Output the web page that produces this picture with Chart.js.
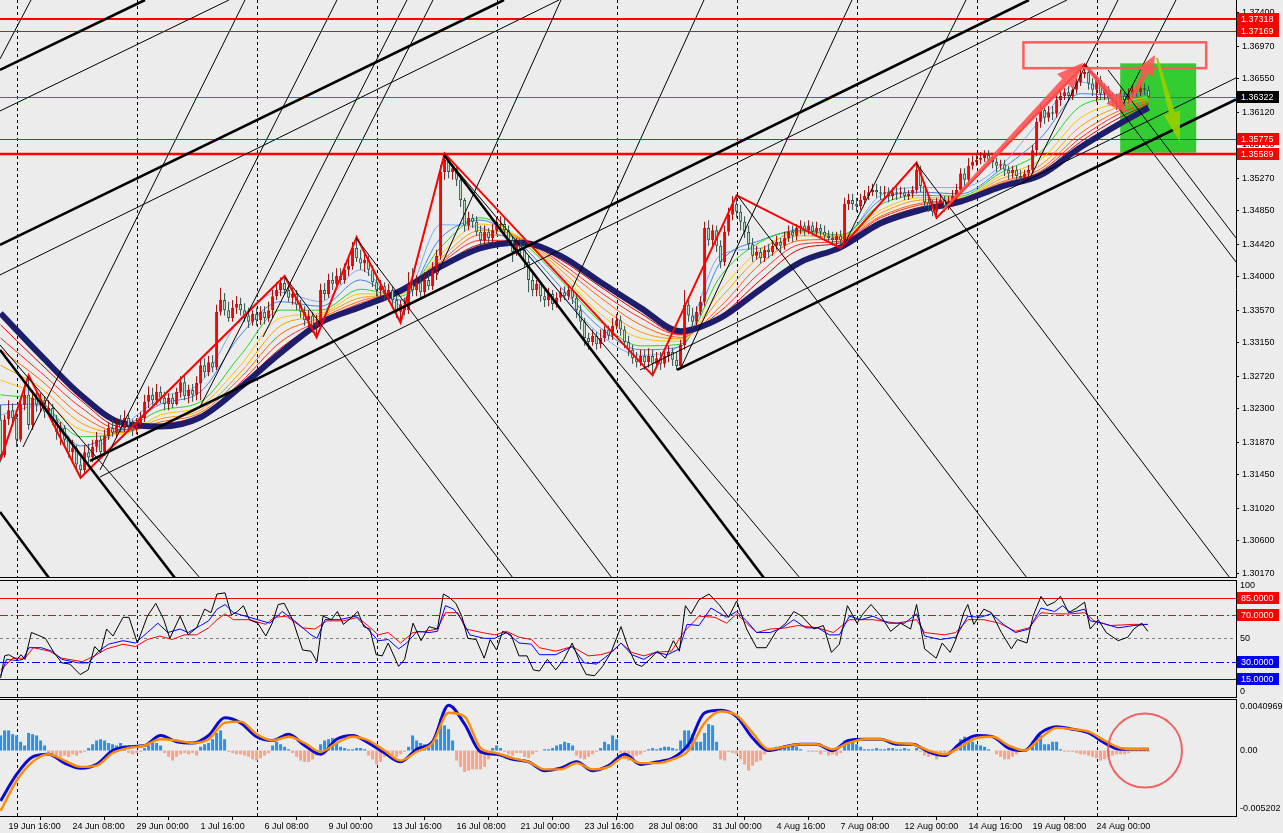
<!DOCTYPE html>
<html>
<head>
<meta charset="utf-8">
<title>H4 chart</title>
<script src="https://cdn.jsdelivr.net/npm/chart.js@4.4.1/dist/chart.umd.min.js"></script>
<style>
  html, body { margin:0; padding:0; background:#ececec; }
  body { width:1283px; height:833px; overflow:hidden; position:relative; }
  canvas { position:absolute; left:0; display:block; }
</style>
</head>
<body>
<canvas id="mainChart" width="1283" height="578" style="top:0px"></canvas>
<canvas id="oscChart" width="1283" height="118" style="top:580px"></canvas>
<canvas id="macdChart" width="1283" height="134" style="top:699px"></canvas>
<script>
// ---------------- DATA ----------------
const timeLabels = ["19 Jun 16:00","24 Jun 08:00","29 Jun 00:00","1 Jul 16:00","6 Jul 08:00","9 Jul 00:00","13 Jul 16:00","16 Jul 08:00","21 Jul 00:00","23 Jul 16:00","28 Jul 08:00","31 Jul 00:00","4 Aug 16:00","7 Aug 08:00","12 Aug 00:00","14 Aug 16:00","19 Aug 08:00","24 Aug 00:00"];
const tickBars = [2,18,34,50,66,82,98,114,130,146,162,178,194,210,226,242,258,274];
const weekStartBars = [4,34,64,94,124,154,184,214,244,274];
const priceTicks = [1.37400,1.36970,1.36550,1.36120,1.35700,1.35270,1.34850,1.34420,1.34000,1.33570,1.33150,1.32720,1.32300,1.31870,1.31450,1.31020,1.30600,1.30170];

const opens = [1.3216,1.3170,1.3216,1.3228,1.3218,1.3190,1.3235,1.3248,1.3209,1.3244,
1.3235,1.3241,1.3226,1.3231,1.3216,1.3200,1.3205,1.3190,1.3174,1.3179,
1.3158,1.3151,1.3174,1.3167,1.3181,1.3190,1.3174,1.3195,1.3205,1.3199,
1.3210,1.3205,1.3218,1.3208,1.3203,1.3210,1.3218,1.3239,1.3248,1.3241,
1.3252,1.3244,1.3236,1.3244,1.3236,1.3252,1.3264,1.3246,1.3254,1.3248,
1.3263,1.3286,1.3277,1.3290,1.3283,1.3355,1.3370,1.3357,1.3347,1.3360,
1.3365,1.3357,1.3350,1.3342,1.3352,1.3344,1.3355,1.3347,1.3357,1.3375,
1.3383,1.3392,1.3383,1.3373,1.3378,1.3364,1.3355,1.3344,1.3350,1.3337,
1.3342,1.3383,1.3378,1.3396,1.3391,1.3401,1.3396,1.3409,1.3414,1.3437,
1.3424,1.3417,1.3422,1.3409,1.3393,1.3383,1.3388,1.3378,1.3383,1.3370,
1.3355,1.3364,1.3357,1.3390,1.3383,1.3393,1.3380,1.3396,1.3388,1.3409,
1.3427,1.3535,1.3551,1.3535,1.3540,1.3525,1.3499,1.3466,1.3476,1.3471,
1.3458,1.3447,1.3458,1.3450,1.3460,1.3466,1.3468,1.3460,1.3447,1.3432,
1.3442,1.3435,1.3419,1.3396,1.3383,1.3391,1.3375,1.3370,1.3378,1.3365,
1.3373,1.3380,1.3375,1.3383,1.3373,1.3357,1.3342,1.3321,1.3316,1.3324,
1.3313,1.3321,1.3332,1.3324,1.3337,1.3344,1.3332,1.3316,1.3306,1.3295,
1.3290,1.3298,1.3290,1.3298,1.3288,1.3295,1.3288,1.3298,1.3303,1.3293,
1.3285,1.3312,1.3364,1.3350,1.3342,1.3355,1.3368,1.3463,1.3447,1.3460,
1.3440,1.3419,1.3458,1.3480,1.3494,1.3484,1.3471,1.3458,1.3442,1.3427,
1.3432,1.3424,1.3435,1.3432,1.3440,1.3445,1.3440,1.3450,1.3458,1.3453,
1.3463,1.3466,1.3460,1.3466,1.3458,1.3463,1.3458,1.3453,1.3450,1.3447,
1.3453,1.3447,1.3494,1.3499,1.3494,1.3491,1.3499,1.3504,1.3509,1.3512,
1.3509,1.3507,1.3509,1.3504,1.3509,1.3507,1.3509,1.3504,1.3507,1.3512,
1.3538,1.3517,1.3496,1.3491,1.3484,1.3494,1.3499,1.3491,1.3496,1.3504,
1.3512,1.3533,1.3525,1.3543,1.3548,1.3551,1.3553,1.3557,1.3551,1.3548,
1.3543,1.3545,1.3538,1.3533,1.3538,1.3530,1.3527,1.3533,1.3538,1.3563,
1.3600,1.3615,1.3605,1.3612,1.3610,1.3628,1.3633,1.3638,1.3633,1.3641,
1.3651,1.3661,1.3664,1.3649,1.3641,1.3654,1.3636,1.3641,1.3631,1.3628,
1.3623,1.3633,1.3628,1.3636,1.3641,1.3638,1.3643,1.3641];
const highs = [1.3235,1.3222,1.3241,1.3237,1.3226,1.3244,1.3261,1.3272,1.3254,1.3252,
1.3250,1.3246,1.3241,1.3236,1.3222,1.3213,1.3209,1.3195,1.3190,1.3183,
1.3167,1.3183,1.3185,1.3190,1.3200,1.3195,1.3203,1.3213,1.3216,1.3218,
1.3222,1.3228,1.3223,1.3216,1.3218,1.3226,1.3248,1.3259,1.3257,1.3262,
1.3259,1.3252,1.3250,1.3249,1.3257,1.3272,1.3274,1.3261,1.3262,1.3272,
1.3293,1.3295,1.3298,1.3299,1.3364,1.3386,1.3379,1.3368,1.3370,1.3375,
1.3373,1.3366,1.3360,1.3357,1.3360,1.3362,1.3362,1.3368,1.3383,1.3393,
1.3399,1.3401,1.3390,1.3386,1.3383,1.3370,1.3362,1.3357,1.3355,1.3351,
1.3391,1.3392,1.3404,1.3406,1.3411,1.3411,1.3417,1.3424,1.3445,1.3451,
1.3435,1.3432,1.3427,1.3415,1.3401,1.3396,1.3393,1.3391,1.3388,1.3375,
1.3370,1.3373,1.3406,1.3411,1.3402,1.3399,1.3406,1.3405,1.3419,1.3435,
1.3544,1.3559,1.3553,1.3545,1.3544,1.3530,1.3502,1.3484,1.3481,1.3478,
1.3466,1.3466,1.3463,1.3468,1.3476,1.3478,1.3476,1.3466,1.3453,1.3450,
1.3447,1.3442,1.3427,1.3406,1.3396,1.3393,1.3383,1.3386,1.3383,1.3380,
1.3386,1.3388,1.3390,1.3388,1.3378,1.3364,1.3347,1.3328,1.3332,1.3329,
1.3332,1.3337,1.3337,1.3347,1.3352,1.3350,1.3337,1.3324,1.3312,1.3303,
1.3306,1.3306,1.3308,1.3306,1.3303,1.3303,1.3306,1.3311,1.3308,1.3303,
1.3319,1.3383,1.3370,1.3360,1.3362,1.3375,1.3471,1.3473,1.3467,1.3466,
1.3447,1.3466,1.3489,1.3504,1.3505,1.3493,1.3478,1.3466,1.3450,1.3440,
1.3437,1.3440,1.3442,1.3447,1.3453,1.3450,1.3458,1.3466,1.3466,1.3468,
1.3473,1.3471,1.3473,1.3471,1.3471,1.3468,1.3466,1.3460,1.3458,1.3458,
1.3460,1.3502,1.3507,1.3507,1.3502,1.3507,1.3512,1.3517,1.3520,1.3520,
1.3517,1.3517,1.3515,1.3515,1.3517,1.3516,1.3515,1.3512,1.3517,1.3547,
1.3543,1.3522,1.3502,1.3499,1.3502,1.3507,1.3504,1.3504,1.3512,1.3520,
1.3540,1.3540,1.3553,1.3556,1.3558,1.3561,1.3563,1.3563,1.3558,1.3553,
1.3551,1.3551,1.3543,1.3543,1.3543,1.3538,1.3538,1.3544,1.3570,1.3605,
1.3623,1.3620,1.3620,1.3620,1.3636,1.3641,1.3643,1.3646,1.3646,1.3656,
1.3667,1.3674,1.3669,1.3656,1.3659,1.3659,1.3649,1.3646,1.3638,1.3636,
1.3641,1.3638,1.3643,1.3646,1.3646,1.3649,1.3649,1.3646];
const lows = [1.3161,1.3167,1.3209,1.3209,1.3181,1.3187,1.3228,1.3203,1.3203,1.3226,
1.3226,1.3218,1.3221,1.3209,1.3190,1.3183,1.3181,1.3167,1.3161,1.3149,
1.3141,1.3145,1.3160,1.3161,1.3174,1.3167,1.3169,1.3190,1.3194,1.3192,
1.3200,1.3200,1.3203,1.3195,1.3197,1.3205,1.3213,1.3231,1.3235,1.3235,
1.3237,1.3228,1.3228,1.3231,1.3234,1.3244,1.3241,1.3237,1.3239,1.3241,
1.3241,1.3270,1.3272,1.3277,1.3280,1.3350,1.3350,1.3342,1.3342,1.3352,
1.3350,1.3342,1.3334,1.3337,1.3337,1.3338,1.3339,1.3342,1.3347,1.3370,
1.3375,1.3378,1.3368,1.3364,1.3357,1.3347,1.3337,1.3334,1.3328,1.3322,
1.3337,1.3370,1.3373,1.3383,1.3386,1.3390,1.3391,1.3401,1.3409,1.3419,
1.3409,1.3406,1.3401,1.3387,1.3375,1.3375,1.3370,1.3368,1.3362,1.3347,
1.3341,1.3350,1.3352,1.3375,1.3375,1.3373,1.3374,1.3383,1.3383,1.3396,
1.3422,1.3525,1.3527,1.3525,1.3517,1.3490,1.3458,1.3460,1.3463,1.3453,
1.3441,1.3442,1.3442,1.3445,1.3455,1.3460,1.3453,1.3440,1.3419,1.3427,
1.3427,1.3411,1.3380,1.3375,1.3375,1.3368,1.3361,1.3362,1.3357,1.3360,
1.3368,1.3370,1.3370,1.3365,1.3347,1.3332,1.3311,1.3306,1.3311,1.3306,
1.3308,1.3316,1.3319,1.3319,1.3332,1.3324,1.3308,1.3298,1.3288,1.3283,
1.3285,1.3280,1.3283,1.3273,1.3283,1.3280,1.3283,1.3290,1.3285,1.3280,
1.3283,1.3306,1.3342,1.3334,1.3337,1.3350,1.3362,1.3440,1.3441,1.3432,
1.3411,1.3414,1.3453,1.3473,1.3476,1.3460,1.3450,1.3435,1.3419,1.3422,
1.3417,1.3419,1.3424,1.3427,1.3435,1.3432,1.3435,1.3445,1.3445,1.3447,
1.3455,1.3453,1.3455,1.3453,1.3453,1.3450,1.3447,1.3445,1.3440,1.3440,
1.3437,1.3442,1.3486,1.3486,1.3484,1.3486,1.3494,1.3499,1.3504,1.3502,
1.3499,1.3502,1.3496,1.3499,1.3499,1.3502,1.3499,1.3499,1.3502,1.3507,
1.3509,1.3489,1.3484,1.3478,1.3476,1.3489,1.3484,1.3486,1.3491,1.3499,
1.3507,1.3517,1.3520,1.3538,1.3543,1.3545,1.3548,1.3544,1.3540,1.3535,
1.3538,1.3530,1.3525,1.3527,1.3525,1.3522,1.3525,1.3527,1.3533,1.3556,
1.3592,1.3597,1.3600,1.3602,1.3605,1.3620,1.3628,1.3628,1.3628,1.3636,
1.3646,1.3656,1.3641,1.3633,1.3625,1.3628,1.3628,1.3623,1.3620,1.3615,
1.3618,1.3620,1.3623,1.3631,1.3632,1.3633,1.3634,1.3631];
const closes = [1.3170,1.3216,1.3228,1.3218,1.3190,1.3235,1.3248,1.3209,1.3244,1.3235,
1.3241,1.3226,1.3231,1.3216,1.3200,1.3205,1.3190,1.3174,1.3179,1.3158,
1.3151,1.3174,1.3167,1.3181,1.3190,1.3174,1.3195,1.3205,1.3199,1.3210,
1.3205,1.3218,1.3208,1.3203,1.3210,1.3218,1.3239,1.3248,1.3241,1.3252,
1.3244,1.3236,1.3244,1.3236,1.3252,1.3264,1.3246,1.3254,1.3248,1.3263,
1.3286,1.3277,1.3290,1.3283,1.3355,1.3370,1.3357,1.3347,1.3360,1.3365,
1.3357,1.3350,1.3342,1.3352,1.3344,1.3355,1.3347,1.3357,1.3375,1.3383,
1.3392,1.3383,1.3373,1.3378,1.3364,1.3355,1.3344,1.3350,1.3337,1.3342,
1.3383,1.3378,1.3396,1.3391,1.3401,1.3396,1.3409,1.3414,1.3437,1.3424,
1.3417,1.3422,1.3409,1.3393,1.3383,1.3388,1.3378,1.3383,1.3370,1.3355,
1.3364,1.3357,1.3390,1.3383,1.3393,1.3380,1.3396,1.3388,1.3409,1.3427,
1.3535,1.3551,1.3535,1.3540,1.3525,1.3499,1.3466,1.3476,1.3471,1.3458,
1.3447,1.3458,1.3450,1.3460,1.3466,1.3468,1.3460,1.3447,1.3432,1.3442,
1.3435,1.3419,1.3396,1.3383,1.3391,1.3375,1.3370,1.3378,1.3365,1.3373,
1.3380,1.3375,1.3383,1.3373,1.3357,1.3342,1.3321,1.3316,1.3324,1.3313,
1.3321,1.3332,1.3324,1.3337,1.3344,1.3332,1.3316,1.3306,1.3295,1.3290,
1.3298,1.3290,1.3298,1.3288,1.3295,1.3288,1.3298,1.3303,1.3293,1.3285,
1.3312,1.3364,1.3350,1.3342,1.3355,1.3368,1.3463,1.3447,1.3460,1.3440,
1.3419,1.3458,1.3480,1.3494,1.3484,1.3471,1.3458,1.3442,1.3427,1.3432,
1.3424,1.3435,1.3432,1.3440,1.3445,1.3440,1.3450,1.3458,1.3453,1.3463,
1.3466,1.3460,1.3466,1.3458,1.3463,1.3458,1.3453,1.3450,1.3447,1.3453,
1.3447,1.3494,1.3499,1.3494,1.3491,1.3499,1.3504,1.3509,1.3512,1.3509,
1.3507,1.3509,1.3504,1.3509,1.3507,1.3509,1.3504,1.3507,1.3512,1.3538,
1.3517,1.3496,1.3491,1.3484,1.3494,1.3499,1.3491,1.3496,1.3504,1.3512,
1.3533,1.3525,1.3543,1.3548,1.3551,1.3553,1.3557,1.3551,1.3548,1.3543,
1.3545,1.3538,1.3533,1.3538,1.3530,1.3527,1.3533,1.3538,1.3563,1.3600,
1.3615,1.3605,1.3612,1.3610,1.3628,1.3633,1.3638,1.3633,1.3641,1.3651,
1.3661,1.3664,1.3649,1.3641,1.3654,1.3636,1.3641,1.3631,1.3628,1.3623,
1.3633,1.3628,1.3636,1.3641,1.3638,1.3643,1.3641,1.3632];

// moving-average ribbon every 10 bars
const maBars = [0,10,20,30,40,50,60,70,80,90,100,110,120,130,140,150,160,170,180,190,200,210,220,230,240,250,260,270,280,287];
const ribFast = [1.3222,1.3234,1.3170,1.3205,1.3244,1.3264,1.3347,1.3380,1.3368,1.3409,1.3364,1.3467,1.3463,1.3437,1.3379,1.3325,1.3299,1.3312,1.3428,1.3437,1.3463,1.3450,1.3505,1.3515,1.3515,1.3543,1.3602,1.3651,1.3633,1.3638];
const ribBlue = [1.3235,1.3236,1.3182,1.3203,1.3236,1.3252,1.3325,1.3368,1.3362,1.3396,1.3370,1.3450,1.3473,1.3442,1.3387,1.3334,1.3306,1.3310,1.3419,1.3447,1.3460,1.3453,1.3499,1.3509,1.3507,1.3538,1.3579,1.3636,1.3634,1.3637];
const ribGreen = [1.3248,1.3239,1.3194,1.3200,1.3228,1.3239,1.3299,1.3357,1.3357,1.3384,1.3375,1.3438,1.3476,1.3447,1.3396,1.3342,1.3311,1.3313,1.3401,1.3445,1.3459,1.3454,1.3493,1.3505,1.3504,1.3534,1.3561,1.3620,1.3631,1.3634];
const ribGold = [1.3267,1.3246,1.3203,1.3197,1.3222,1.3234,1.3286,1.3347,1.3353,1.3378,1.3378,1.3429,1.3468,1.3450,1.3404,1.3352,1.3321,1.3317,1.3383,1.3435,1.3457,1.3453,1.3486,1.3502,1.3502,1.3530,1.3551,1.3605,1.3625,1.3632];
const ribOrange = [1.3286,1.3257,1.3212,1.3199,1.3217,1.3228,1.3277,1.3337,1.3350,1.3373,1.3380,1.3424,1.3460,1.3450,1.3409,1.3362,1.3329,1.3320,1.3373,1.3427,1.3453,1.3451,1.3482,1.3499,1.3501,1.3526,1.3544,1.3594,1.3620,1.3629];
const ribRedOr = [1.3306,1.3267,1.3222,1.3200,1.3213,1.3225,1.3270,1.3326,1.3347,1.3369,1.3382,1.3420,1.3454,1.3449,1.3414,1.3373,1.3338,1.3322,1.3362,1.3417,1.3447,1.3449,1.3478,1.3495,1.3500,1.3522,1.3539,1.3585,1.3615,1.3627];
const ribRed = [1.3321,1.3277,1.3232,1.3203,1.3210,1.3222,1.3264,1.3316,1.3344,1.3366,1.3383,1.3418,1.3447,1.3447,1.3418,1.3380,1.3347,1.3325,1.3356,1.3406,1.3442,1.3446,1.3476,1.3493,1.3499,1.3520,1.3536,1.3579,1.3611,1.3624];
const ribCrimson = [1.3338,1.3288,1.3241,1.3207,1.3208,1.3221,1.3261,1.3308,1.3342,1.3364,1.3383,1.3415,1.3442,1.3446,1.3422,1.3387,1.3353,1.3326,1.3350,1.3396,1.3436,1.3444,1.3473,1.3490,1.3498,1.3517,1.3534,1.3574,1.3606,1.3622];
const navyMA = [1.3353,1.3299,1.3248,1.3212,1.3207,1.3219,1.3258,1.3302,1.3341,1.3361,1.3382,1.3413,1.3437,1.3444,1.3427,1.3393,1.3360,1.3330,1.3347,1.3384,1.3419,1.3438,1.3469,1.3486,1.3497,1.3516,1.3531,1.3567,1.3598,1.3618];

// zigzag swing points
const zigzagBars = [0,7,20,71,79,89,100,111,163,184,210,229,234,271,280];
const zigzagPrices = [1.3164,1.3273,1.3141,1.3401,1.3322,1.3451,1.3341,1.3559,1.3273,1.3505,1.3437,1.3547,1.3476,1.3674,1.3618];

// trend lines: [bar1, price1, bar2, price2]
const thickTrend = [
  [-0.15,1.36666,36.1,1.37568],[-0.15,1.34411,125.85,1.37568],[22.35,1.31627,257.1,1.37568],[169.1,1.32800,308.85,1.36286],
  [-0.15,1.30970,12.1,1.30118],[-0.15,1.33057,43.6,1.30118],[110.85,1.35570,190.85,1.30118]
];
const thinTrend = [
  [-0.15,1.36137,57.1,1.37568],[-0.15,1.34024,139.6,1.37568],[24.85,1.31421,266.6,1.37568],[159.85,1.32800,308.85,1.36563],
  [-0.15,1.33122,49.85,1.30118],[71.1,1.33998,128.1,1.30118],[88.85,1.34501,152.85,1.30118],[110.85,1.35570,199.85,1.30118],
  [184.1,1.35055,256.6,1.30118],[228.85,1.35467,307.35,1.30118],[271.1,1.36743,308.85,1.34191],[276.85,1.36666,308.85,1.34501],
  [-0.15,1.36808,7.6,1.37568],[5.6,1.31807,61.1,1.37568],[24.85,1.31511,84.1,1.37568],[49.85,1.32323,101.6,1.37568],
  [65.6,1.33225,108.1,1.37568],[109.1,1.34024,140.1,1.37568],[143.1,1.33869,175.85,1.37568],[169.85,1.32800,212.85,1.37568],
  [211.1,1.34436,241.35,1.37568],[257.6,1.35300,279.35,1.37568],[279.85,1.36150,293.85,1.37568]
];

// horizontal price levels
const levelPrices = [1.37318,1.37169,1.36322,1.35775,1.35589];

// drawn objects (bar, price)
const zoneBox = [255.7,1.37022,301.4,1.36689];
const targetBox = [279.9,1.36751,298.9,1.35600];
const arrowPaths = [[235.6,1.3486,270.6,1.3676],[271.6,1.3670,281.4,1.3611],[281.9,1.3622,288.6,1.3686],[289.1,1.3682,294.8,1.3574]];

// oscillator window: points (bar position, value)
const oscFastBars = [0,1,2,4.1,5.1,6.1,7.7,9.2,11.2,13.3,15.3,17.3,19.9,21.9,23.5,25,26.5,28.1,30.6,32.1,34.2,36.7,38.8,40.8,42.3,44.9,46.9,49,51,52.6,54.1,56.1,57.7,59.2,60.7,62.2,64.3,66.3,67.9,69.4,70.9,73,75.5,77.6,79.1,80.6,82.7,84.2,85.7,87.8,89.3,90.8,92.3,93.9,95.4,96.9,99.5,101,103.1,105.1,107.1,109.2,110.7,112.2,113.8,115.3,116.8,118.9,120.9,122.4,124,125.5,127.6,129.6,131.6,133.2,134.7,136.7,138.8,140.8,142.9,144.9,146.4,148.5,150.5,152.6,155.1,156.8,158.8,160.3,162.3,164.2,166.2,168.2,169.7,171.2,172.6,174.6,177.1,179.6,182,184,186.5,189,191.4,193.9,196.3,198.3,200.3,203.3,205.7,207.7,209.7,211.7,214.1,215.6,217.6,220.1,222.5,225,227.5,229,231,233.9,235.4,237.4,238.8,240.8,241.8,243.3,245.8,247.7,250.2,252.7,254.2,256.6,258.1,260.1,261.6,263.5,265,267,269,271,272.4,274.4,276.4,279.4,281.8,283.3,285.3,286.8];
const oscFast = [16,35,36,32,36,32,55,53,50,38,29,28,19,23,43,38,58,52,68,68,46,69,80,66,50,69,53,59,75,72,88,89,70,73,78,66,63,52,63,79,80,66,40,39,30,69,66,73,62,68,73,60,58,36,35,46,26,32,63,48,60,58,88,85,80,69,50,49,33,49,40,56,53,35,35,23,22,32,23,32,46,29,19,18,26,38,60,43,28,26,32,39,33,48,39,78,71,83,88,79,68,82,58,42,42,56,63,73,69,58,61,38,45,78,63,71,79,69,56,63,58,79,41,33,46,38,49,72,79,62,75,72,55,41,49,46,69,86,78,81,86,72,76,81,58,66,55,48,51,58,63,56];
const oscMidBars = [0,1.5,4.1,5.6,7.1,10.2,12.8,15.3,19.4,21.9,24.5,27,30.6,33.7,36.7,39.3,41.8,44.9,46.9,50,52,54.1,56.1,58.2,61.2,65.3,67.3,70.4,73.5,77.6,79.1,81.1,84.7,88.8,91.8,94.4,96.9,99.5,101.5,104.1,107.1,109.2,111.2,113.3,115.3,117.3,120.9,123.5,126.5,129.6,132.7,134.7,138.8,142.9,145.9,149,152,155.1,157.8,160.8,163.7,166.7,169.7,171.6,174.6,177.6,181.5,184,186.5,189,192.4,195.4,198.3,201.3,204.3,207.2,209.7,212.2,215.1,218.1,222,226,229,231,234.9,238.8,241.8,244.8,247.7,250.7,253.7,257.1,260.1,263.5,265.5,267.5,271,272.4,275.4,279.4,283.3,286.8];
const oscMid = [18,32,31,32,42,42,39,32,29,29,39,45,48,46,55,63,55,58,55,61,65,75,79,72,69,65,63,73,65,53,50,66,66,69,58,48,49,41,46,56,55,56,78,75,66,53,50,50,55,46,45,36,36,43,29,28,36,46,36,32,38,36,41,62,61,76,68,73,65,55,55,59,66,59,59,53,53,69,66,69,63,63,71,52,49,51,69,68,71,62,55,58,76,73,78,72,75,65,63,59,61,62];
const oscSlowBars = [0,3.1,6.1,8.2,12.2,15.3,20.4,23.5,26.5,30.6,33.7,36.7,39.8,42.9,45.9,49,52,54.1,56.1,58.2,62.2,66.3,68.4,71.4,75.5,78.6,81.6,85.7,89.3,91.8,94.4,96.9,100,103.1,106.1,109.2,111.2,114.3,116.3,120.4,123.5,126.5,129.6,132.7,134.7,138.8,142.9,146.9,150,153.1,155.1,157.8,160.8,163.7,167.7,170.7,174.6,178.6,181.5,184,186.5,189,192.4,196.3,199.3,204.3,208.2,212.2,218.1,224,229,231,235.9,238.8,241.8,245.8,249.7,253.7,257.1,260.1,263.5,267.5,271,273.4,277.4,283.3,286.8];
const oscSlow = [23,33,33,42,39,33,30,35,41,45,43,49,52,49,53,53,59,66,71,66,66,62,68,69,59,58,65,65,68,61,53,55,46,55,56,58,72,72,58,55,53,56,51,49,42,39,43,35,36,39,46,38,35,38,39,55,69,68,63,71,63,55,58,59,61,59,55,66,66,63,66,55,53,55,66,66,63,56,59,72,71,71,72,65,61,62,62];
const oscLevels = [85,70,50,30,15];

// MACD window
const oscBars = [0,4,8,12,16,20,24,28,32,36,40,44,48,52,56,60,64,68,72,76,80,84,88,92,96,100,104,108,112,116,120,124,128,132,136,140,144,148,152,156,160,164,168,172,176,180,184,188,192,196,200,204,208,212,216,220,224,228,232,236,240,244,248,252,256,260,264,268,272,276,280,284,287];
const macdMain = [-0.0040,-0.0019,-0.0005,-0.0003,-0.0010,-0.0014,-0.0011,0.0000,0.0003,0.0004,0.0012,0.0007,0.0006,0.0012,0.0026,0.0022,0.0011,0.0008,0.0013,0.0004,-0.0003,0.0009,0.0012,0.0006,-0.0002,-0.0009,0.0001,0.0007,0.0036,0.0021,-0.0001,-0.0003,-0.0007,-0.0009,-0.0016,-0.0014,-0.0009,-0.0016,-0.0012,-0.0003,-0.0011,-0.0009,-0.0006,0.0005,0.0030,0.0032,0.0027,0.0010,0.0000,0.0003,0.0005,0.0005,0.0000,0.0008,0.0009,0.0009,0.0005,0.0005,-0.0001,-0.0004,0.0006,0.0012,0.0011,0.0002,0.0000,0.0014,0.0019,0.0017,0.0014,0.0006,0.0001,0.0001,0.0001];
const macdSignal = [-0.0048,-0.0024,-0.0009,-0.0003,-0.0008,-0.0013,-0.0012,-0.0002,0.0002,0.0004,0.0009,0.0008,0.0006,0.0009,0.0022,0.0023,0.0013,0.0008,0.0011,0.0006,-0.0001,0.0006,0.0011,0.0008,0.0000,-0.0008,-0.0001,0.0006,0.0030,0.0027,0.0002,-0.0002,-0.0006,-0.0009,-0.0015,-0.0015,-0.0010,-0.0015,-0.0013,-0.0005,-0.0010,-0.0010,-0.0007,0.0000,0.0022,0.0031,0.0028,0.0014,0.0001,0.0003,0.0005,0.0005,0.0001,0.0006,0.0009,0.0009,0.0006,0.0005,0.0000,-0.0003,0.0003,0.0010,0.0011,0.0004,0.0000,0.0010,0.0018,0.0017,0.0015,0.0008,0.0002,0.0001,0.0001];
const macdHist = [
0.0012,0.0016,0.0016,0.0013,0.0012,0.0007,0.0004,0.0014,0.0013,0.0012,0.0008,0.0004,
-0.0002,-0.0003,-0.0004,-0.0005,-0.0004,-0.0005,-0.0003,-0.0004,-0.0002,-0.0001,
0.0002,0.0005,0.0008,0.0009,0.0008,0.0006,0.0005,0.0004,0.0006,0.0004,
-0.0002,-0.0003,-0.0002,-0.0001,
0.0002,0.0004,0.0006,0.0006,0.0004,
-0.0002,-0.0005,-0.0008,-0.0005,-0.0003,-0.0002,-0.0003,-0.0002,-0.0004,
0.0003,0.0005,0.0006,0.0009,0.0014,0.0016,0.0009,
-0.0001,-0.0002,-0.0003,-0.0003,-0.0004,-0.0005,-0.0007,-0.0008,-0.0006,-0.0004,-0.0002,
0.0004,0.0007,0.0005,0.0003,0.0001,
-0.0002,-0.0005,-0.0008,-0.0009,-0.0009,-0.0007,-0.0004,
0.0005,0.0008,0.0009,0.0010,0.0006,
0.0003,0.0002,0.0001,0.0001,0.0002,0.0002,0.0001,
-0.0004,-0.0007,-0.0011,-0.0009,-0.0005,-0.0003,-0.0004,-0.0005,-0.0003,-0.0001,
0.0003,0.0012,0.0008,0.0006,0.0005,0.0005,0.0006,0.0009,0.0025,0.0020,0.0017,0.0008,
-0.0008,-0.0013,-0.0017,-0.0016,-0.0015,-0.0015,-0.0015,-0.0013,-0.0007,
0.0002,0.0004,0.0002,-0.0001,
-0.0003,-0.0004,-0.0002,-0.0002,-0.0005,-0.0006,-0.0003,-0.0001,0,0.0001,
0.0001,0.0002,0.0004,0.0005,0.0007,0.0006,0.0004,
-0.0004,-0.0006,-0.0007,-0.0005,-0.0003,-0.0001,
0.0002,0.0007,0.0005,0.0012,0.0009,
-0.0002,-0.0007,-0.0008,-0.0007,-0.0004,-0.0003,
-0.0001,
0.0001,0.0002,0.0001,0.0002,0.0003,0.0003,0.0002,0.0001,
0.0008,
0.0016,0.0016,0.0013,0.0007,0.0007,0.0014,0.0021,0.0020,0.0007,
-0.0007,-0.0008,-0.0001,-0.0002,-0.0003,-0.0007,-0.0011,-0.0016,-0.0012,-0.0009,-0.0008,-0.0003,
-0.0001,
0.0001,0.0003,0.0003,0.0004,0.0003,0.0004,0.0003,
0.0001,0,-0.0001,
-0.0001,-0.0001,-0.0003,-0.0001,-0.0004,-0.0003,-0.0004,
-0.0002,
0.0008,0.0009,0.0008,0.0005,0.0003,0.0001,
0.0001,0.0001,0.0002,0.0001,0.0001,0.0002,0.0002,0.0001,0.0001,0.0002,0.0001,0,
0.0002,
-0.0001,-0.0004,-0.0005,-0.0004,-0.0007,-0.0004,-0.0003,-0.0001,
0,0.0002,
0.0009,0.0011,0.0009,0.0007,0.0005,0.0004,0.0003,
0.0001,0,
-0.0003,-0.0005,-0.0007,-0.0007,-0.0005,-0.0003,-0.0001,-0.0001,
0,
0.0007,0.0011,0.0012,0.0005,0.0005,0.0007,0.0007,0.0001,
-0.0001,-0.0001,-0.0001,-0.0002,-0.0003,-0.0003,-0.0004,-0.0005,-0.0006,-0.0008,-0.0007,-0.0005,-0.0004,-0.0003,-0.0003,-0.0003,-0.0002,-0.0001,-0.0001,-0.0001,-0.0001,-0.0001];
const macdCircle = [286.1, 0.0];

// ---------------- STYLE / LAYOUT ----------------
const FONT = '"Liberation Sans", Arial, sans-serif';
Chart.defaults.font.family = FONT;
Chart.defaults.font.size = 9;
Chart.defaults.color = '#000';
const X_MIN = -0.15, X_MAX = 308.85;
const AXIS_W = 47;
const levelStyles = [
  {color:'#ff0000', width:2, box:'#ff0000'},
  {color:'#ff0000', width:1, box:'#ff0000'},
  {color:'#2f68f0', width:1, box:'#000000'},
  {color:'#ff0000', width:1, box:'#ff0000'},
  {color:'#ff0000', width:2.5, box:'#ff0000'}
];
const oscLevelStyles = [
  {color:'#ff0000', dash:[], box:'#ff0000'},
  {color:'#ff0000', dash:[8,3,2,3], box:'#ff0000'},
  {color:'#808080', dash:[3,3], box:null},
  {color:'#0000ff', dash:[8,3,2,3], box:'#0000ff'},
  {color:'#0000ff', dash:[], box:'#0000ff'}
];
const ribbonColors = ['#74aef2','#3f82e6','#22d422','#ffc400','#ff9a00','#ff6400','#ff2b2b','#d00000'];

function xScale(show) {
  const s = {
    type:'linear', min:X_MIN, max:X_MAX, offset:false, display:show,
    afterFit: ax => { ax.paddingLeft = 0; ax.paddingRight = 0; if (show) ax.height = 17; },
    grid:{display:false}
  };
  if (show) {
    s.position = 'bottom';
    s.afterBuildTicks = ax => { ax.ticks = tickBars.map(v => ({value:v})); };
    s.ticks = {autoSkip:false, maxRotation:0, minRotation:0, align:'start', padding:1, color:'#000',
               font:{size:9, family:FONT}, callback:(v, i) => timeLabels[i]};
    s.grid = {display:true, drawOnChartArea:false, drawTicks:true, tickLength:4, color:'#000'};
    s.border = {display:true, color:'#000', width:1};
  }
  return s;
}
function yFit(ax) { ax.width = AXIS_W; ax.paddingTop = 0; ax.paddingBottom = 0; }

function drawSeparators(chart) {
  const {ctx, chartArea:a, scales:{x}} = chart;
  ctx.save();
  ctx.strokeStyle = '#000'; ctx.lineWidth = 1; ctx.setLineDash([3,3]);
  weekStartBars.forEach(b => {
    const X = Math.round(x.getPixelForValue(b)) + 0.5;
    ctx.beginPath(); ctx.moveTo(X, a.top); ctx.lineTo(X, a.bottom); ctx.stroke();
  });
  ctx.restore();
}
function axisBox(ctx, chart, y, text, bg) {
  const L = chart.chartArea.right + 1;
  ctx.fillStyle = bg; ctx.fillRect(L, Math.round(y) - 6, 42, 12);
  ctx.fillStyle = '#fff'; ctx.font = '9px ' + FONT; ctx.textAlign = 'left'; ctx.textBaseline = 'middle';
  ctx.fillText(text, L + 4, Math.round(y) + 0.5);
}
function axisText(ctx, chart, y, text) {
  const L = chart.chartArea.right + 1;
  ctx.fillStyle = '#000'; ctx.font = '9px ' + FONT; ctx.textAlign = 'left'; ctx.textBaseline = 'middle';
  ctx.fillText(text, L + 3, y);
}
function drawArrow(ctx, x1, y1, x2, y2, color, w0, w1, headW, headL) {
  const dx = x2 - x1, dy = y2 - y1, L = Math.hypot(dx, dy);
  const ux = dx / L, uy = dy / L, nx = -uy, ny = ux;
  const bx = x2 - ux * headL, by = y2 - uy * headL;
  ctx.fillStyle = color; ctx.beginPath();
  ctx.moveTo(x1 + nx * w0 / 2, y1 + ny * w0 / 2);
  ctx.lineTo(bx + nx * w1 / 2, by + ny * w1 / 2);
  ctx.lineTo(bx + nx * headW / 2, by + ny * headW / 2);
  ctx.lineTo(x2, y2);
  ctx.lineTo(bx - nx * headW / 2, by - ny * headW / 2);
  ctx.lineTo(bx - nx * w1 / 2, by - ny * w1 / 2);
  ctx.lineTo(x1 - nx * w0 / 2, y1 - ny * w0 / 2);
  ctx.closePath(); ctx.fill();
}
const arrowStyles = [
  {color:'rgba(255,82,82,0.88)', w0:2, w1:8, headW:22, headL:26},
  {color:'rgba(255,82,82,0.88)', w0:3, w1:7, headW:18, headL:20},
  {color:'rgba(255,82,82,0.88)', w0:3, w1:6, headW:18, headL:20},
  {color:'rgba(150,205,0,0.95)', w0:2, w1:6, headW:17, headL:30}
];

// ---------------- MAIN PRICE CHART ----------------
const barIdx = closes.map((_, i) => i);
const isUp = barIdx.map(i => closes[i] >= opens[i]);
const ribbonSeries = [ribFast, ribBlue, ribGreen, ribGold, ribOrange, ribRedOr, ribRed, ribCrimson];
const mainDatasets = [];
ribbonSeries.forEach((arr, k) => {
  mainDatasets.push({type:'line', data: maBars.map((b, j) => ({x:b, y:arr[j]})), borderColor: ribbonColors[k],
    borderWidth:1, pointRadius:0, cubicInterpolationMode:'monotone', order: 70 - k});
});
mainDatasets.push({type:'line', data: maBars.map((b, j) => ({x:b, y:navyMA[j]})), borderColor:'#1d1d6b',
  borderWidth:6, pointRadius:0, cubicInterpolationMode:'monotone', order:50});
mainDatasets.push({type:'bar', data: barIdx.map(i => ({x:i, y:[lows[i], highs[i]]})),
  backgroundColor: barIdx.map(i => isUp[i] ? '#9a0000' : '#2f4f4f'), barThickness:1, grouped:false,
  inflateAmount:0, order:41});
mainDatasets.push({type:'bar', data: barIdx.map(i => ({x:i, y:[opens[i], closes[i]]})),
  backgroundColor: barIdx.map(i => isUp[i] ? '#ff0000' : '#cdebcd'),
  borderColor: barIdx.map(i => isUp[i] ? '#d40000' : '#2f4f4f'),
  borderWidth:1, borderSkipped:false, barThickness:3, grouped:false, inflateAmount:0, order:40});
mainDatasets.push({type:'line', data: zigzagBars.map((b, j) => ({x:b, y:zigzagPrices[j]})), borderColor:'#ff0000',
  borderWidth:2, pointRadius:0, tension:0, order:30});
thinTrend.forEach(t => mainDatasets.push({type:'line', data:[{x:t[0], y:t[1]}, {x:t[2], y:t[3]}],
  borderColor:'#000', borderWidth:1, pointRadius:0, tension:0, order:20}));
thickTrend.forEach(t => mainDatasets.push({type:'line', data:[{x:t[0], y:t[1]}, {x:t[2], y:t[3]}],
  borderColor:'#000', borderWidth:2.6, pointRadius:0, tension:0, order:19}));

const mainPlugin = {
  id:'mainDecor',
  beforeDatasetsDraw(chart) {
    const {ctx, chartArea:a, scales:{x, y}} = chart;
    ctx.save(); ctx.beginPath(); ctx.rect(a.left, a.top, a.width, a.height); ctx.clip();
    const gx1 = x.getPixelForValue(targetBox[0]), gy1 = y.getPixelForValue(targetBox[1]);
    const gx2 = x.getPixelForValue(targetBox[2]), gy2 = y.getPixelForValue(targetBox[3]);
    ctx.fillStyle = '#33cc33'; ctx.fillRect(gx1, gy1, gx2 - gx1, gy2 - gy1);
    ctx.restore();
    drawSeparators(chart);
    ctx.save(); ctx.beginPath(); ctx.rect(a.left, a.top, a.width, a.height); ctx.clip();
    levelPrices.forEach((p, k) => {
      const st = levelStyles[k]; const Y = y.getPixelForValue(p);
      ctx.strokeStyle = st.color; ctx.lineWidth = st.width;
      const yy = st.width % 2 === 1 ? Math.round(Y) + 0.5 : Math.round(Y);
      ctx.beginPath(); ctx.moveTo(a.left, yy); ctx.lineTo(a.right, yy); ctx.stroke();
    });
    ctx.restore();
  },
  afterDatasetsDraw(chart) {
    const {ctx, chartArea:a, scales:{x, y}} = chart;
    ctx.save(); ctx.beginPath(); ctx.rect(a.left, a.top, a.width, a.height); ctx.clip();
    const zx1 = x.getPixelForValue(zoneBox[0]), zy1 = y.getPixelForValue(zoneBox[1]);
    const zx2 = x.getPixelForValue(zoneBox[2]), zy2 = y.getPixelForValue(zoneBox[3]);
    ctx.strokeStyle = 'rgba(255,86,86,0.95)'; ctx.lineWidth = 2.5;
    ctx.strokeRect(zx1, zy1, zx2 - zx1, zy2 - zy1);
    arrowPaths.forEach((p, k) => {
      const s = arrowStyles[k];
      drawArrow(ctx, x.getPixelForValue(p[0]), y.getPixelForValue(p[1]), x.getPixelForValue(p[2]), y.getPixelForValue(p[3]),
        s.color, s.w0, s.w1, s.headW, s.headL);
    });
    ctx.restore();
  },
  afterDraw(chart) {
    const {ctx, chartArea:a, scales:{y}} = chart;
    ctx.save();
    ctx.strokeStyle = '#000'; ctx.lineWidth = 1;
    ctx.beginPath(); ctx.moveTo(a.left, a.bottom - 0.5); ctx.lineTo(a.right + 1, a.bottom - 0.5); ctx.stroke();
    levelPrices.forEach((p, k) => axisBox(ctx, chart, y.getPixelForValue(p), p.toFixed(5), levelStyles[k].box));
    ctx.restore();
  }
};

new Chart(document.getElementById('mainChart'), {
  type:'line',
  data:{datasets: mainDatasets},
  options:{
    responsive:false, animation:false, events:[], layout:{padding:0},
    plugins:{legend:{display:false}, tooltip:{enabled:false}},
    scales:{
      x: xScale(false),
      y: {type:'linear', position:'right', min:1.301184, max:1.375675,
          afterBuildTicks: ax => { ax.ticks = priceTicks.map(v => ({value:v})); },
          afterFit: yFit,
          ticks:{color:'#000', padding:3, font:{size:9, family:FONT}, callback: v => Number(v).toFixed(5)},
          grid:{display:true, drawOnChartArea:false, drawTicks:true, tickLength:3, color:'#000'},
          border:{display:true, color:'#000', width:1}}
    }
  },
  plugins:[mainPlugin]
});

// ---------------- OSCILLATOR WINDOW ----------------
const oscPlugin = {
  id:'oscDecor',
  beforeDatasetsDraw(chart) {
    const {ctx, chartArea:a, scales:{y}} = chart;
    drawSeparators(chart);
    ctx.save();
    oscLevels.forEach((v, k) => {
      const st = oscLevelStyles[k]; const Y = Math.round(y.getPixelForValue(v)) + 0.5;
      ctx.strokeStyle = st.color; ctx.lineWidth = 1; ctx.setLineDash(st.dash);
      ctx.beginPath(); ctx.moveTo(a.left, Y); ctx.lineTo(a.right, Y); ctx.stroke();
    });
    ctx.restore();
  },
  afterDraw(chart) {
    const {ctx, chartArea:a, scales:{y}} = chart;
    ctx.save();
    ctx.strokeStyle = '#000'; ctx.lineWidth = 1;
    ctx.beginPath(); ctx.moveTo(a.left, a.top + 0.5); ctx.lineTo(a.right + 1, a.top + 0.5); ctx.stroke();
    ctx.beginPath(); ctx.moveTo(a.left, a.bottom - 0.5); ctx.lineTo(a.right + 1, a.bottom - 0.5); ctx.stroke();
    axisText(ctx, chart, a.top + 6, '100');
    axisText(ctx, chart, a.bottom - 6, '0');
    oscLevels.forEach((v, k) => {
      const st = oscLevelStyles[k]; const Y = y.getPixelForValue(v);
      if (st.box) axisBox(ctx, chart, Y, v.toFixed(4), st.box); else axisText(ctx, chart, Y, String(v));
    });
    ctx.restore();
  }
};
new Chart(document.getElementById('oscChart'), {
  type:'line',
  data:{datasets:[
    {data: oscSlowBars.map((b, j) => ({x:b, y:oscSlow[j]})), borderColor:'#ff0000', borderWidth:1, pointRadius:0, tension:0, order:3},
    {data: oscMidBars.map((b, j) => ({x:b, y:oscMid[j]})), borderColor:'#0000ff', borderWidth:1, pointRadius:0, tension:0, order:2},
    {data: oscFastBars.map((b, j) => ({x:b, y:oscFast[j]})), borderColor:'#000000', borderWidth:1, pointRadius:0, tension:0, order:1}
  ]},
  options:{
    responsive:false, animation:false, events:[], layout:{padding:0},
    plugins:{legend:{display:false}, tooltip:{enabled:false}},
    scales:{
      x: xScale(false),
      y: {type:'linear', position:'right', min:-1.1, max:100, afterFit: yFit,
          ticks:{display:false}, grid:{display:false}, border:{display:true, color:'#000', width:1}}
    }
  },
  plugins:[oscPlugin]
});

// ---------------- MACD WINDOW ----------------
const macdPlugin = {
  id:'macdDecor',
  beforeDatasetsDraw(chart) { drawSeparators(chart); },
  afterDatasetsDraw(chart) {
    const {ctx, scales:{x, y}} = chart;
    ctx.save();
    ctx.strokeStyle = 'rgba(240,84,84,0.9)'; ctx.lineWidth = 2;
    ctx.beginPath(); ctx.arc(x.getPixelForValue(macdCircle[0]), y.getPixelForValue(macdCircle[1]), 37, 0, Math.PI * 2); ctx.stroke();
    ctx.restore();
  },
  afterDraw(chart) {
    const {ctx, chartArea:a, scales:{y}} = chart;
    ctx.save();
    ctx.strokeStyle = '#000'; ctx.lineWidth = 1;
    ctx.beginPath(); ctx.moveTo(a.left, a.top + 0.5); ctx.lineTo(a.right + 1, a.top + 0.5); ctx.stroke();
    axisText(ctx, chart, a.top + 8, '0.0040969');
    axisText(ctx, chart, y.getPixelForValue(0), '0.00');
    axisText(ctx, chart, a.bottom - 7, '-0.005202');
    ctx.restore();
  }
};
new Chart(document.getElementById('macdChart'), {
  type:'line',
  data:{datasets:[
    {type:'bar', data: macdHist.map((v, i) => ({x:i, y:v})),
     backgroundColor: macdHist.map(v => v >= 0 ? '#2d8fe8' : '#f8a489'), barThickness:3, grouped:false, inflateAmount:0, order:30},
    {type:'line', data: oscBars.map((b, j) => ({x:b, y:macdMain[j]})), borderColor:'#0a0ad0', borderWidth:3,
     pointRadius:0, cubicInterpolationMode:'monotone', order:20},
    {type:'line', data: oscBars.map((b, j) => ({x:b, y:macdSignal[j]})), borderColor:'#ff8c00', borderWidth:2.4,
     pointRadius:0, cubicInterpolationMode:'monotone', order:10}
  ]},
  options:{
    responsive:false, animation:false, events:[], layout:{padding:0},
    plugins:{legend:{display:false}, tooltip:{enabled:false}},
    scales:{
      x: xScale(true),
      y: {type:'linear', position:'right', min:-0.005202, max:0.0040969, afterFit: yFit,
          ticks:{display:false}, grid:{display:false}, border:{display:true, color:'#000', width:1}}
    }
  },
  plugins:[macdPlugin]
});
</script>
</body>
</html>
